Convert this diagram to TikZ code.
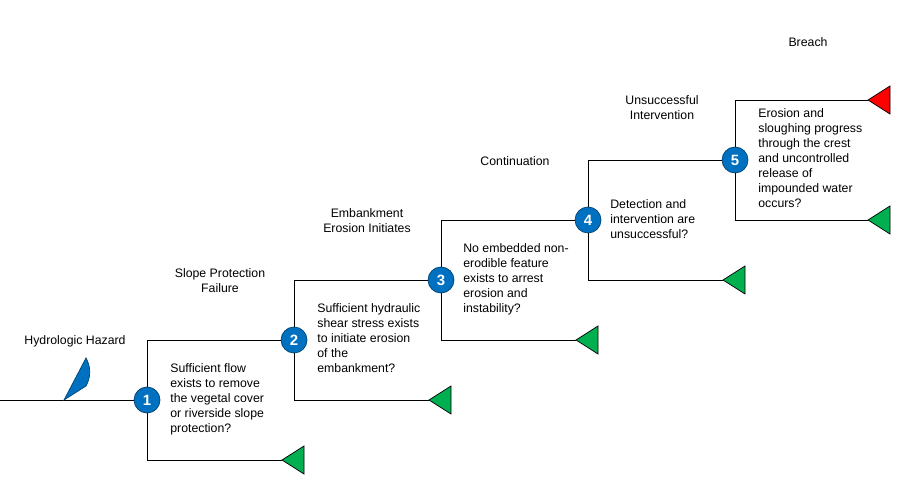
\documentclass[tikz,border=0pt]{standalone}
\usepackage{fontspec}
\setmainfont{Liberation Sans}
\usepackage{tikz}
\definecolor{evblue}{RGB}{0,112,192}
\definecolor{evgreen}{RGB}{0,176,80}
\definecolor{evred}{RGB}{255,0,0}

\begin{document}
\begin{tikzpicture}[x=0.02cm,y=-0.02cm,font=\fontsize{7}{8.6}\selectfont]
  \tikzstyle{EVnode}=[circle,draw=evblue!60!black,fill=evblue,text=white,inner sep=0pt,minimum size=5.2mm,font=\fontsize{8.5}{9}\selectfont\bfseries]
  \tikzstyle{Desc}=[anchor=north west,align=left,inner sep=0pt]
  \tikzstyle{Lbl}=[align=center,inner sep=0pt]
  \tikzstyle{Leaf}=[draw=black,line width=0.4pt]
  \useasboundingbox (0,0) rectangle (905,482);

  % event nodes
  \node[EVnode] (n1) at (147,400) {1};
  \node[EVnode] (n2) at (294,340) {2};
  \node[EVnode] (n3) at (441,280) {3};
  \node[EVnode] (n4) at (588,220) {4};
  \node[EVnode] (n5) at (735,160) {5};

  % branch corners and leaves
  \coordinate (start) at (0,400);
  \coordinate (haz) at (90,400);
  \coordinate (t1) at (147,340); \coordinate (b1) at (147,460); \coordinate (e1) at (282,460);
  \coordinate (t2) at (294,280); \coordinate (b2) at (294,400); \coordinate (e2) at (429,400);
  \coordinate (t3) at (441,220); \coordinate (b3) at (441,340); \coordinate (e3) at (576,340);
  \coordinate (t4) at (588,160); \coordinate (b4) at (588,280); \coordinate (e4) at (723,280);
  \coordinate (t5) at (735,100); \coordinate (b5) at (735,220);
  \coordinate (e5) at (868,100); \coordinate (e6) at (868,220);

  % edges
  \draw (start) -- (haz);
  \draw (haz) -- (n1);
  \draw (t1) -- (n1) -- (b1) -- (e1);
  \draw (t1) -- (n2);
  \draw (t2) -- (n2) -- (b2) -- (e2);
  \draw (t2) -- (n3);
  \draw (t3) -- (n3) -- (b3) -- (e3);
  \draw (t3) -- (n4);
  \draw (t4) -- (n4) -- (b4) -- (e4);
  \draw (t4) -- (n5);
  \draw (t5) -- (n5) -- (b5) -- (e6);
  \draw (t5) -- (e5);

  % hazard symbol
  \draw[fill=evblue,draw=evblue!60!black] (64,400) -- (86,386) arc[start angle=30,end angle=-30,radius=28] -- cycle;

  % terminals
  \foreach \e/\c in {e1/evgreen,e2/evgreen,e3/evgreen,e4/evgreen,e6/evgreen,e5/evred}
    \draw[fill=\c,draw=black] (\e) -- ++(22,-14) -- ++(0,28) -- cycle;

  % labels
  \node[Lbl] (lhaz) at (75,341) {Hydrologic Hazard};
  \node[Lbl] (l1) at (220,281) {Slope Protection\\Failure};
  \node[Lbl] (l2) at (367,221) {Embankment\\Erosion Initiates};
  \node[Lbl] (l3) at (515,161) {Continuation};
  \node[Lbl] (l4) at (662,108) {Unsuccessful\\Intervention};
  \node[Lbl] (l5) at (808,42) {Breach};

  % descriptions
  \node[Desc] (d1) at (170,363) {Sufficient flow\\exists to remove\\the vegetal cover\\or riverside slope\\protection?};
  \node[Desc] (d2) at (317,303) {Sufficient hydraulic\\shear stress exists\\to initiate erosion\\of the\\embankment?};
  \node[Desc] (d3) at (463,243) {No embedded non-\\erodible feature\\exists to arrest\\erosion and\\instability?};
  \node[Desc] (d4) at (610,199) {Detection and\\intervention are\\unsuccessful?};
  \node[Desc] (d5) at (758,108) {Erosion and\\sloughing progress\\through the crest\\and uncontrolled\\release of\\impounded water\\occurs?};
\end{tikzpicture}
\end{document}
